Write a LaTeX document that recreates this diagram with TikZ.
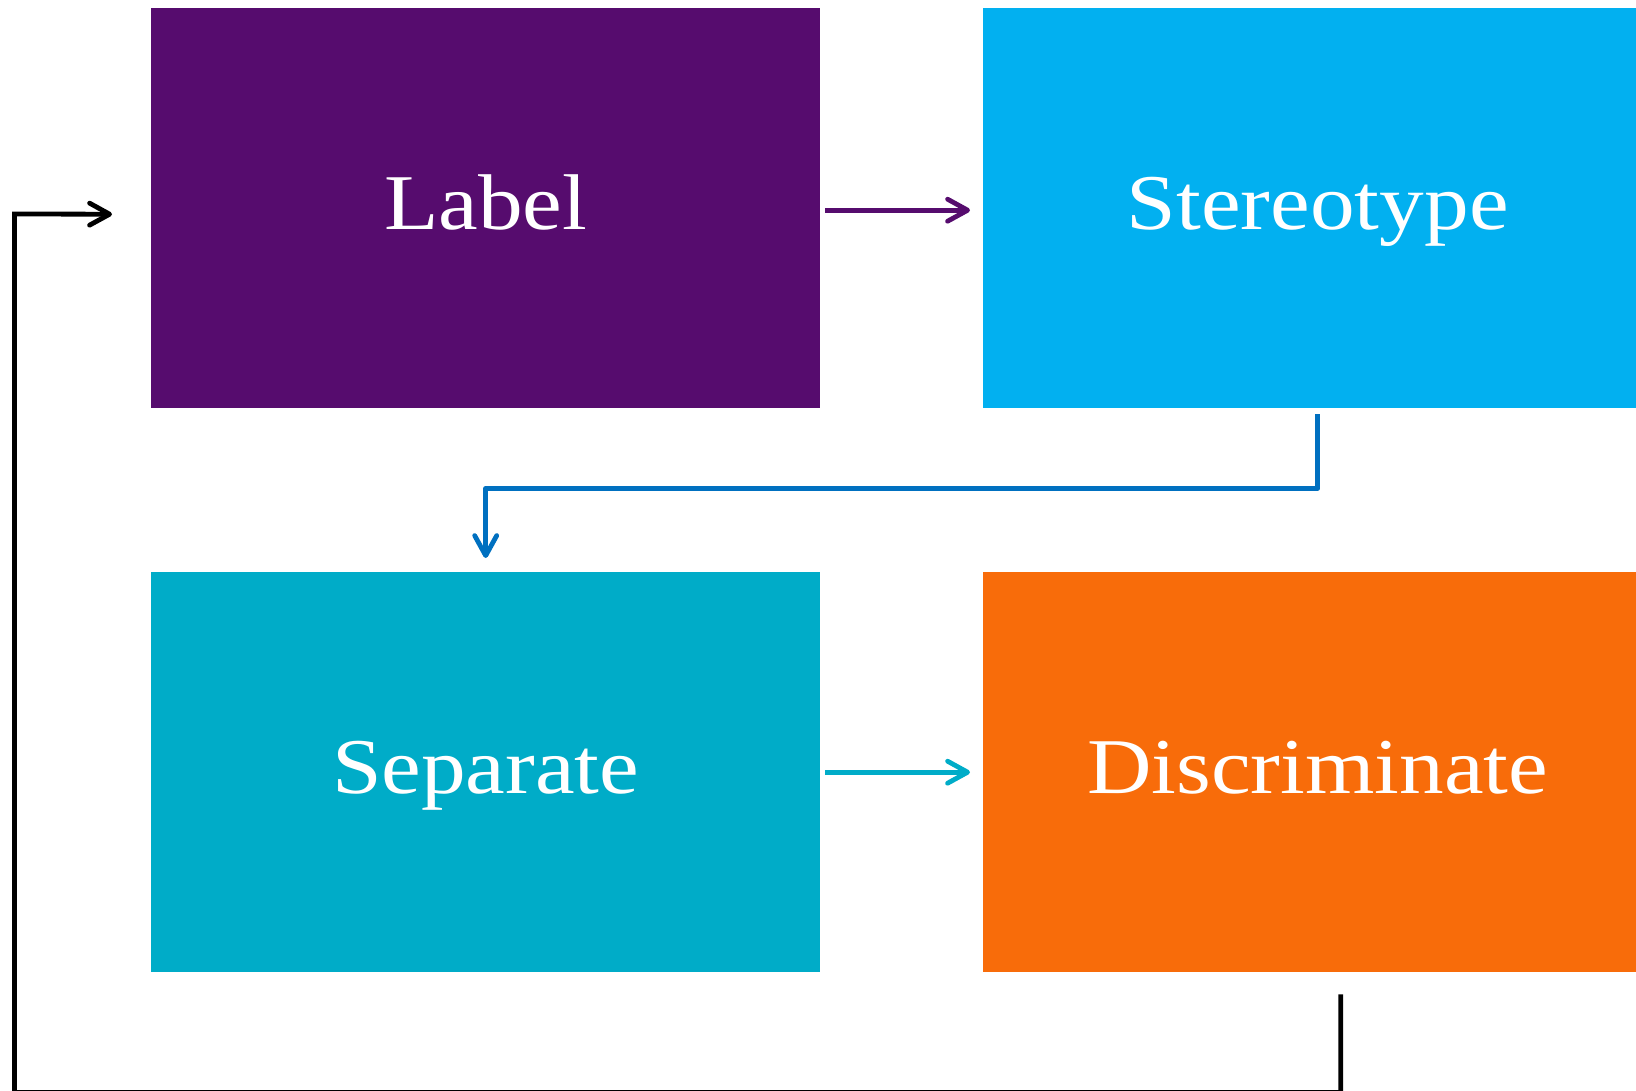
\documentclass[tikz,border=0pt]{standalone}
\usepackage{fontspec}
\setmainfont{Liberation Serif}
\newfontfamily\boxfont[FakeStretch=1.13]{Liberation Serif}
\usetikzlibrary{arrows.meta}
\definecolor{cpurple}{RGB}{86,12,110}
\definecolor{cblue}{RGB}{2,176,240}
\definecolor{cteal}{RGB}{0,172,200}
\definecolor{corange}{RGB}{248,108,10}
\definecolor{carrowblue}{RGB}{0,112,192}
\tikzset{
  box/.style={draw=none, minimum width=669pt, minimum height=400pt, inner sep=0pt,
    text height=55pt, text depth=13pt,
    text=white, font=\boxfont\fontsize{79}{95}\selectfont},
  conn/.style={line width=4.8pt, -{Straight Barb[length=20pt,width=22pt,round]}},
}
\begin{document}
\begin{tikzpicture}[x=1pt,y=-1pt]
\useasboundingbox (0,0) rectangle (1636,1090);
\clip (0,0) rectangle (1636,1090);
\node[box, fill=cpurple, anchor=north west] (lab) at (151,8) {Label};
\node[box, fill=cblue, anchor=north west] (ster) at (983,8) {Stereotype};
\node[box, fill=cteal, anchor=north west] (sep) at (151,572) {Separate};
\node[box, fill=corange, anchor=north west] (disc) at (983,572) {Discriminate};
\draw[conn, cpurple] ([xshift=5pt,yshift=-2pt]lab.east) -- ([xshift=-13pt,yshift=-2pt]ster.west);
\draw[conn, cteal] ([xshift=5pt]sep.east) -- ([xshift=-13pt]sep.east -| ster.west);
\draw[conn, carrowblue, line join=round] ([yshift=-6pt]ster.south) -- ++(0,74) -| ([yshift=14pt]sep.north);
\coordinate (loopleft) at (14.5,214);
\draw[conn, black, line join=miter] ([xshift=23pt,yshift=-22pt]disc.south) -- ++(0,98) -| (loopleft) -- ([xshift=-39pt,yshift=-6pt]lab.west);
\end{tikzpicture}
\end{document}
